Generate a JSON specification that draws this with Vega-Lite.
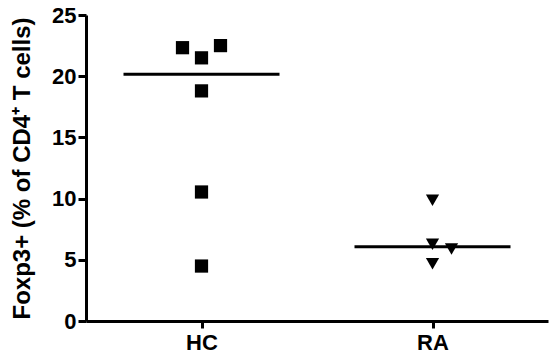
{
  "$schema": "https://vega.github.io/schema/vega-lite/v6.json",
  "autosize": {"type": "none"},
  "width": 462,
  "height": 306,
  "padding": {"left": 86, "top": 15, "right": 1, "bottom": 41},
  "background": "white",
  "config": {
    "view": {"stroke": null},
    "font": "Liberation Sans",
    "axis": {
      "domainColor": "black",
      "domainWidth": 3,
      "tickColor": "black",
      "tickWidth": 3,
      "labelColor": "black",
      "labelFont": "Liberation Sans",
      "labelFontWeight": "bold",
      "labelFontSize": 22,
      "titleColor": "black",
      "titleFont": "Liberation Sans",
      "titleFontWeight": "bold",
      "titleFontSize": 24,
      "grid": false
    }
  },
  "data": {
    "values": [
      {"group": "HC", "slot": -1, "value": 22.33},
      {"group": "HC", "slot": 1, "value": 22.5},
      {"group": "HC", "slot": 0, "value": 21.5},
      {"group": "HC", "slot": 0, "value": 18.8},
      {"group": "HC", "slot": 0, "value": 10.54},
      {"group": "HC", "slot": 0, "value": 4.49},
      {"group": "RA", "slot": 0, "value": 9.86},
      {"group": "RA", "slot": 0, "value": 6.27},
      {"group": "RA", "slot": 1, "value": 5.88},
      {"group": "RA", "slot": 0, "value": 4.68}
    ]
  },
  "layer": [
    {
      "mark": {"type": "point", "filled": true, "opacity": 1, "size": 175, "color": "black"},
      "encoding": {
        "x": {
          "field": "group", "type": "nominal",
          "scale": {"type": "point", "domain": ["HC", "RA"], "padding": 0.5},
          "axis": {"title": null, "labelAngle": 0, "tickSize": 7, "labelPadding": 4}
        },
        "xOffset": {
          "field": "slot", "type": "ordinal",
          "scale": {"type": "point", "domain": [-1, 0, 1], "range": [-19, 19], "padding": 0}
        },
        "y": {
          "field": "value", "type": "quantitative",
          "scale": {"domain": [0, 25], "nice": false, "zero": true},
          "axis": {
            "values": [0, 5, 10, 15, 20, 25],
            "tickSize": 8,
            "labelPadding": 2,
            "title": "Foxp3+ (% of CD4⁺ T cells)",
            "titleAngle": -90,
            "titleX": -64,
            "titleY": 153,
            "titleAlign": "center",
            "titleBaseline": "middle"
          }
        },
        "shape": {
          "field": "group", "type": "nominal",
          "scale": {"domain": ["HC", "RA"], "range": ["square", "triangle-down"]},
          "legend": null
        }
      }
    },
    {
      "mark": {"type": "tick", "color": "black", "thickness": 3, "size": 156, "orient": "horizontal"},
      "encoding": {
        "x": {"field": "group", "type": "nominal"},
        "y": {"aggregate": "median", "field": "value", "type": "quantitative"}
      }
    }
  ]
}
